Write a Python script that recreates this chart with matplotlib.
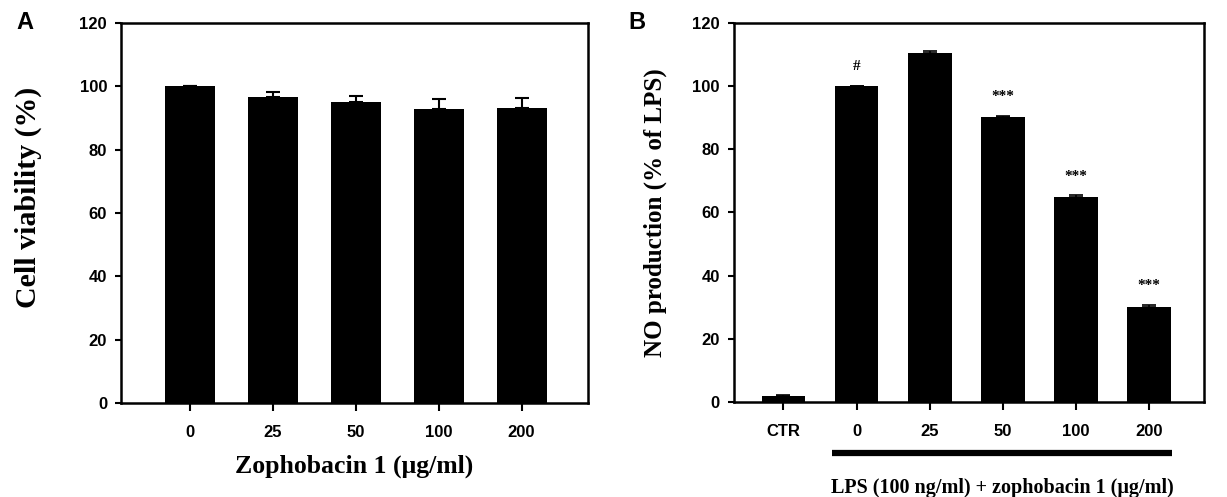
import matplotlib
matplotlib.use("Agg")
import matplotlib.pyplot as plt
import matplotlib.transforms as mtransforms

# Panel A - cell viability
via_labels = ["0", "25", "50", "100", "200"]
via_mean = [100, 96.7, 95.1, 92.8, 93.2]
via_err = [0, 1.4, 1.7, 3.2, 3.2]

# Panel B - NO production
no_labels = ["CTR", "0", "25", "50", "100", "200"]
no_mean = [2, 100, 110.5, 90.1, 64.9, 30]
no_err = [0.3, 0, 0.7, 0.4, 0.5, 0.7]
no_marks = ["", "#", "", "***", "***", "***"]

sans = "Liberation Sans"
serif = "Liberation Serif"

fig = plt.figure(figsize=(12.27, 4.97), dpi=100)
axA = fig.add_axes([0.0986, 0.189, 0.3806, 0.765])
axB = fig.add_axes([0.598, 0.191, 0.383, 0.763])


def style(ax):
    for s in ax.spines.values():
        s.set_linewidth(1.8)
    ax.set_ylim(0, 120)
    ax.set_yticks(range(0, 121, 20))
    ax.tick_params(axis="both", direction="out", width=1.5, length=4,
                   labelsize=12, pad=6)
    ax.tick_params(axis="x", length=6, pad=10)
    for lab in ax.get_xticklabels() + ax.get_yticklabels():
        lab.set_fontfamily(sans)
        lab.set_fontweight("bold")


xa = range(len(via_labels))
axA.bar(xa, via_mean, width=0.6, color="black")
axA.errorbar(xa, via_mean, yerr=[[0] * len(via_err), via_err], fmt="none",
             ecolor="black", elinewidth=1.5, capsize=5, capthick=1.5)
axA.set_xticks(list(xa))
axA.set_xticklabels(via_labels)
axA.set_xlim(-0.83, 4.8)
style(axA)
axA.set_ylabel("Cell viability (%)", fontsize=21.5, fontfamily=serif,
               fontweight="bold")
axA.yaxis.set_label_coords(-0.17, 0.54)
axA.set_xlabel("Zophobacin 1 (μg/ml)", fontsize=18.5, fontfamily=serif,
               fontweight="bold", labelpad=10)

xb = range(len(no_labels))
axB.bar(xb, no_mean, width=0.6, color="black")
axB.errorbar(xb, no_mean, yerr=[[0] * len(no_err), no_err], fmt="none",
             ecolor="black", elinewidth=1.2, capsize=5, capthick=1.2)
for x, m, e, t in zip(xb, no_mean, no_err, no_marks):
    if t:
        axB.text(x, m + e + 4, t, ha="center", va="bottom", fontsize=11,
                 fontfamily=serif, fontweight="bold")
axB.set_xticks(list(xb))
axB.set_xticklabels(no_labels)
axB.set_xlim(-0.68, 5.75)
style(axB)
axB.set_ylabel("NO production (% of LPS)", fontsize=18, fontfamily=serif,
               fontweight="bold", labelpad=18)

trans = mtransforms.blended_transform_factory(axB.transData, axB.transAxes)
axB.plot([0.67, 5.32], [-0.134, -0.134], color="black", lw=4.5,
         transform=trans, clip_on=False, solid_capstyle="butt")
axB.text(3.0, -0.2, "LPS (100 ng/ml) + zophobacin 1 (μg/ml)", transform=trans,
         ha="center", va="top", fontsize=14.5, fontfamily=serif, fontweight="bold")

fig.text(0.013, 0.955, "A", fontsize=17, fontweight="bold", fontfamily=sans,
         va="center")
fig.text(0.512, 0.955, "B", fontsize=17, fontweight="bold", fontfamily=sans,
         va="center")

fig.savefig("out.png", dpi=100)
